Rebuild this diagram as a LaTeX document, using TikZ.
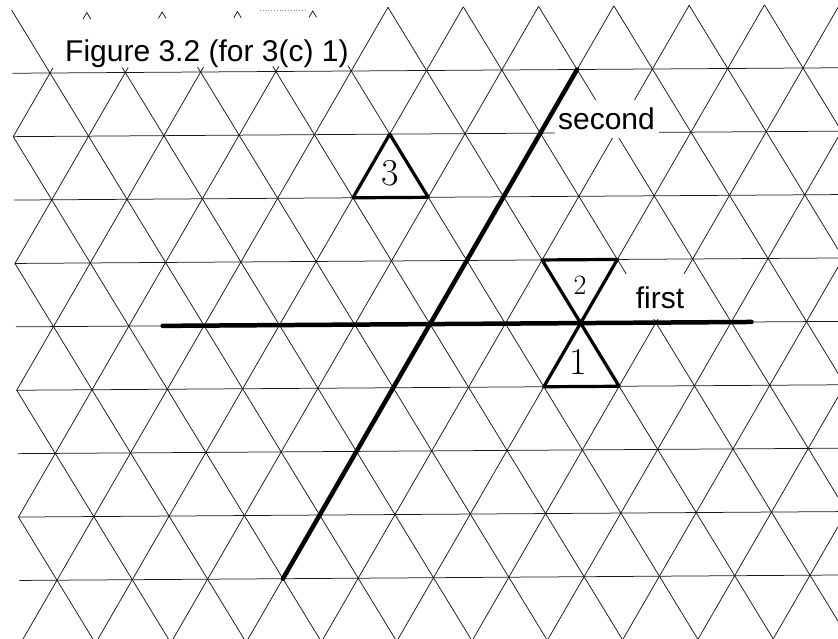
\documentclass[tikz,border=0pt]{standalone}
\usepackage{fontspec}
\newfontfamily\arial{Liberation Sans}
\tikzset{
  gridline/.style={line width=0.75pt, black!90},
  thickline/.style={line width=4.5pt, line cap=round},
  tri/.style={line width=3.2pt, line join=round},
  lbl/.style={font=\arial\fontsize{30}{36}\selectfont, inner sep=0pt},
  eraser/.style={fill=white, draw=none, inner sep=0pt},
  digit/.style={inner sep=0pt},
}
\begin{document}
\begin{tikzpicture}[x=1pt,y=-1pt]
\useasboundingbox (0,0) rectangle (838,639);
\fill[white] (0,0) rectangle (838,639);
\begin{scope}
\clip (0,0) rectangle (838,639);
\begin{scope}[shift={(50,73)}, x={(75.3pt,0.5pt)}, y={(0.875pt,-63.4pt)}]
  \clip (-0.5,-1.2) -- (14,-1.2) -- (14,10) -- (-0.5,10) -- cycle;
  % rows
  \foreach \v in {0,...,8} \draw[gridline] (-0.5,\v) -- (13,\v);
  % rising diagonals
  \foreach \c in {0,...,16} \draw[gridline] (\c,0) -- (\c-4.8,9.6);
  % falling diagonals
  \foreach \c in {-5,...,11} \draw[gridline] (\c,0) -- (\c+4.8,9.6);
  % top band
  \foreach \c in {4,...,12} \draw[gridline] (\c,0) -- (\c+0.5,-1);
  \foreach \c in {0,5,6,...,13} \draw[gridline] (\c,0) -- (\c-0.5,-1);
  % remaining caret tips under the title area
  \foreach \a in {0.5,1.5,2.5,3.5}
    \draw[gridline] (\a-0.05,-0.85) -- (\a,-0.95) -- (\a+0.05,-0.85);
  % small stubs above row 0 under the title
  \foreach \c in {0,...,3} \draw[gridline] (\c,0) -- (\c+0.04,-0.08);
  \foreach \c in {1,...,4} \draw[gridline] (\c,0) -- (\c-0.04,-0.08);
  % named points
  \coordinate (S0) at (3,8);
  \coordinate (S1) at (7,0);
  \coordinate (F0) at (1.45,4);
  \coordinate (F1) at (9.27,4);
  \coordinate (T1a) at (7,4);
  \coordinate (T1b) at (6.5,5);
  \coordinate (T1c) at (7.5,5);
  \coordinate (T2a) at (6.5,3);
  \coordinate (T2b) at (7.5,3);
  \coordinate (T3a) at (4.5,1);
  \coordinate (T3b) at (4,2);
  \coordinate (T3c) at (5,2);
\end{scope}
\end{scope}
% faint dotted remnant at the top
\coordinate (D0) at (260,10);
\coordinate (D1) at (305,10);
\draw[black!45, dotted, line width=0.8pt] (D0) -- (D1);
% erased areas behind labels
\node[eraser, minimum width=104pt, minimum height=38pt] (secbox) at (607,119) {};
\node[eraser, minimum width=64pt, minimum height=45pt] (firstbox) at (657,296) {};
% thick lines
\draw[thickline] (S0) -- (S1);
\draw[thickline] (F0) -- (F1);
% triangles
\draw[tri] (T1a) -- (T1b) -- (T1c) -- cycle;
\draw[tri] (T1a) -- (T2a) -- (T2b) -- cycle;
\draw[tri] (T3a) -- (T3b) -- (T3c) -- cycle;
% labels
\node[lbl, anchor=base west] (title) at (65,62) {Figure 3.2 (for 3(c) 1)};
\node[lbl, anchor=base] (second) at (606.5,130) {second};
\node[lbl, anchor=base] (first) at (660,308) {first};
\node[digit, font=\fontsize{38}{40}\selectfont] (n1) at (578,362) {1};
\node[digit, font=\fontsize{28}{30}\selectfont] (n2) at (580,285) {2};
\node[digit, font=\fontsize{38}{40}\selectfont] (n3) at (390,173) {3};
\end{tikzpicture}
\end{document}
